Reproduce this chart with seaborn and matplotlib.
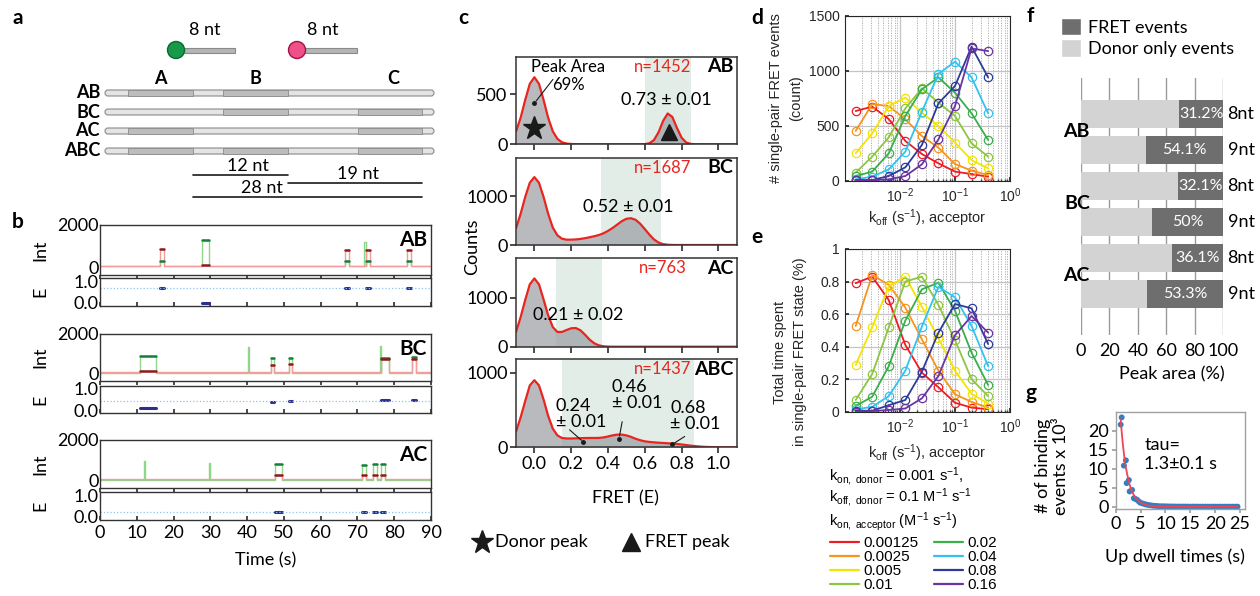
import numpy as np
import pandas as pd
import matplotlib
matplotlib.use('Agg')
import matplotlib.pyplot as plt
import seaborn as sns
from matplotlib.patches import FancyBboxPatch, Rectangle, Circle, Patch
from matplotlib.lines import Line2D
from matplotlib.ticker import LogLocator, NullFormatter

# ---------------- data ----------------
# b: single-molecule traces, events = (start s, end s, donor, acceptor, FRET)
trace_names = ['AB', 'BC', 'AC']
events_ab = [(16.2, 17.3, 300, 850, 0.70), (27.7, 29.7, 1300, 80, 0.02),
             (66.5, 67.6, 280, 820, 0.68), (72.3, 73.4, 290, 820, 0.68),
             (83.5, 84.6, 300, 830, 0.68)]
events_bc = [(10.8, 15.1, 880, 110, 0.08), (46.5, 47.2, 780, 420, 0.40),
             (51.4, 52.1, 760, 500, 0.42), (76.5, 78.5, 780, 720, 0.50),
             (84.7, 85.9, 860, 740, 0.47)]
events_ac = [(47.5, 49.4, 820, 260, 0.22), (71.3, 72.2, 780, 260, 0.22),
             (74.1, 75.2, 800, 250, 0.22), (76.5, 77.5, 820, 280, 0.22)]
# donor-only spikes (time s, donor)
spikes_ab = [(71.9, 1200)]
spikes_bc = [(40.2, 1330), (76.2, 1400)]
spikes_ac = [(12.0, 980), (29.7, 840)]
fret_mean = [0.70, 0.45, 0.22]

# c: FRET histograms (counts read at E = -0.1 ... 1.1, step 0.025)
fret_grid = np.round(np.arange(-0.1, 1.1001, 0.025), 3)
counts_ab = [128, 264, 443, 604, 670, 604, 443, 264, 130, 55, 20, 8, 3, 1, 0, 0, 0,
             0, 0, 0, 0, 0, 0, 0, 0, 0, 0, 0, 2, 10, 42, 120, 234, 308, 273, 164,
             67, 18, 4, 1, 0, 0, 0, 0, 0, 0, 0, 0, 0]
counts_bc = [345, 641, 990, 1283, 1400, 1283, 990, 641, 360, 200, 130, 110, 110,
             115, 125, 140, 160, 180, 205, 240, 290, 350, 420, 490, 540, 552, 520,
             440, 330, 215, 115, 50, 18, 5, 1, 0, 0, 0, 0, 0, 0, 0, 0, 0, 0, 0, 0,
             0, 0]
counts_ac = [300, 600, 950, 1270, 1390, 1270, 960, 640, 400, 300, 300, 340, 375,
             380, 335, 245, 145, 70, 28, 9, 2, 0, 0, 0, 0, 0, 0, 0, 0, 0, 0, 0, 0,
             0, 0, 0, 0, 0, 0, 0, 0, 0, 0, 0, 0, 0, 0, 0, 0]
counts_abc = [210, 400, 620, 830, 900, 830, 640, 420, 250, 160, 125, 118, 118, 120,
              122, 124, 125, 125, 126, 132, 145, 160, 170, 170, 160, 140, 115, 95,
              80, 72, 66, 62, 58, 54, 50, 45, 38, 30, 22, 16, 10, 6, 4, 2, 1, 0, 0,
              0, 0]
hist_names = ['AB', 'BC', 'AC', 'ABC']
hist_n = [1452, 1687, 763, 1437]
fret_windows = [(0.6, 0.85), (0.36, 0.69), (0.115, 0.365), (0.15, 0.87)]

# d, e: simulations
koff_acceptor = [0.0015625, 0.003125, 0.00625, 0.0125, 0.025, 0.05, 0.1, 0.2, 0.4]
kon_labels = ['0.00125', '0.0025', '0.005', '0.01', '0.02', '0.04', '0.08', '0.16']
events_sim = [
    [635, 675, 562, 363, 245, 160, 85, 63, 39],
    [454, 698, 680, 560, 408, 302, 154, 94, 54],
    [251, 432, 680, 756, 620, 499, 348, 190, 115],
    [76, 221, 396, 659, 841, 711, 590, 342, 221],
    [45, 85, 251, 590, 832, 940, 801, 614, 372],
    [15, 39, 106, 266, 629, 971, 1083, 940, 614],
    [9, 9, 45, 124, 327, 705, 862, 1219, 940],
    [6, 6, 15, 45, 151, 378, 680, 1203, 1179],
]
time_frac_sim = [
    [0.79, 0.83, 0.686, 0.41, 0.24, 0.15, 0.055, 0.025, 0.015],
    [0.527, 0.84, 0.78, 0.64, 0.445, 0.252, 0.107, 0.06, 0.025],
    [0.287, 0.52, 0.77, 0.83, 0.645, 0.45, 0.252, 0.11, 0.05],
    [0.072, 0.232, 0.518, 0.80, 0.83, 0.656, 0.44, 0.20, 0.096],
    [0.035, 0.092, 0.28, 0.56, 0.752, 0.793, 0.62, 0.363, 0.164],
    [0.014, 0.03, 0.096, 0.252, 0.523, 0.768, 0.703, 0.527, 0.28],
    [0.006, 0.006, 0.04, 0.072, 0.246, 0.486, 0.662, 0.635, 0.416],
    [0.0, 0.004, 0.01, 0.02, 0.082, 0.22, 0.47, 0.588, 0.486],
]

# f: peak areas
f_construct = ['AB', 'AB', 'BC', 'BC', 'AC', 'AC']
f_length = ['8nt', '9nt', '8nt', '9nt', '8nt', '9nt']
f_fret_pct = [31.2, 54.1, 32.1, 50.0, 36.1, 53.3]

# g: dwell times
dwell_time = [1.0, 1.2, 1.65, 2.05, 2.2, 2.65, 2.8, 3.3, 3.65, 4.0, 4.3, 4.7, 5.0,
              5.5, 6.0, 6.5, 7.0, 7.5, 8.0, 8.5, 9.0, 9.5, 10.0, 10.5, 11.0, 11.5,
              12.0, 12.5, 13.0, 13.5, 14.0, 14.5, 15.0, 15.5, 16.0, 16.5, 17.0,
              17.5, 18.0, 18.5, 19.0, 19.5, 20.0, 20.5, 21.0, 21.5, 22.0, 22.5,
              23.0, 23.5, 24.0, 24.5]
dwell_count = [21.6, 23.5, 10.8, 12.2, 6.2, 7.0, 4.0, 4.4, 2.2, 2.0, 1.8, 1.3, 1.0,
               0.8, 0.6, 0.45, 0.35, 0.25, 0.2, 0.15, 0.1, 0.1, 0.08, 0.06, 0.05,
               0.04, 0.03, 0.03, 0.02, 0.02, 0.02, 0.01, 0.01, 0.01, 0.01, 0.01,
               0, 0, 0, 0, 0, 0, 0, 0, 0, 0, 0, 0, 0, 0, 0, 0]
fit_time = [1.0, 1.25, 1.5, 1.75, 2.0, 2.5, 3.0, 3.5, 4.0, 5.0, 6.0, 7.0, 8.0, 10.0,
            15.0, 20.0, 24.5]
fit_count = [23.0, 19.0, 15.7, 12.9, 10.6, 7.3, 4.9, 3.4, 2.3, 1.05, 0.49, 0.22,
             0.10, 0.02, 0.0, 0.0, 0.0]

# ---------------- style ----------------
sns.set_theme(style='ticks')
plt.rcParams['font.family'] = ['Lato', 'DejaVu Sans']
plt.rcParams.update({
    'mathtext.fontset': 'custom',
    'mathtext.rm': 'Liberation Sans',
    'mathtext.it': 'Liberation Sans:italic',
    'mathtext.bf': 'Liberation Sans:bold',
    'text.color': 'black',
    'axes.labelcolor': 'black',
    'xtick.labelcolor': 'black',
    'ytick.labelcolor': 'black',
})

W, H = 1260, 596
fig = plt.figure(figsize=(12.6, 5.96), dpi=100)


def px_axes(x0, y0, x1, y1):
    return fig.add_axes([x0 / W, 1 - y1 / H, (x1 - x0) / W, (y1 - y0) / H])


ov = fig.add_axes([0, 0, 1, 1])
ov.set_xlim(0, W)
ov.set_ylim(H, 0)
ov.axis('off')

for lab, (x, y) in zip('abcdefg', [(18, 18), (18, 222), (463, 18), (757, 18),
                                  (757, 237), (1030, 16), (1031, 393)]):
    ov.text(x, y, lab, fontsize=15, fontweight='bold', ha='center', va='center')

# ---------------- a: schematic ----------------
ov.add_patch(Circle((176, 50), 8.5, fc='#17994a', ec='#0b6b2f', lw=1, zorder=3))
ov.add_patch(Rectangle((184, 47.5), 51, 5, fc='#b5b5b5', ec='#8a8a8a', lw=0.8))
ov.add_patch(Circle((297, 50), 8.5, fc='#f0508a', ec='#a3143f', lw=1, zorder=3))
ov.add_patch(Rectangle((305, 47.5), 52, 5, fc='#b5b5b5', ec='#8a8a8a', lw=0.8))
ov.text(205, 30, '8 nt', ha='center', va='center', fontsize=13)
ov.text(323, 30, '8 nt', ha='center', va='center', fontsize=13)
site_x = {'A': (128, 193), 'B': (223, 288), 'C': (358, 422)}
for s, (x0, x1) in site_x.items():
    ov.text((x0 + x1) / 2 + (0 if s != 'C' else 3), 78, s, ha='center', va='center',
            fontsize=13, fontweight='bold')
for name, yc in zip(hist_names, [93, 112, 131, 151]):
    ov.add_patch(FancyBboxPatch((105, yc - 3), 329, 6,
                                boxstyle='round,pad=0,rounding_size=3',
                                fc='#e4e4e4', ec='#8a8a8a', lw=0.8))
    for s in name:
        x0, x1 = site_x[s]
        ov.add_patch(Rectangle((x0, yc - 3), x1 - x0, 6, fc='#bcbcbc',
                               ec='#8a8a8a', lw=0.6))
    ov.text(100, yc, name, ha='right', va='center', fontsize=13, fontweight='bold')
ov.plot([193, 288], [175, 175], color='k', lw=1.2)
ov.plot([288, 422], [183, 183], color='k', lw=1.2)
ov.plot([193, 422], [197, 197], color='k', lw=1.2)
ov.text(248, 166, '12 nt', ha='center', va='center', fontsize=13)
ov.text(358, 174, '19 nt', ha='center', va='center', fontsize=13)
ov.text(262, 188, '28 nt', ha='center', va='center', fontsize=13)

# ---------------- b: traces ----------------


def steps(segs, base):
    t, v = [0.0], [base]
    for s, e, lvl in sorted(segs):
        t += [s, e]
        v += [lvl, base]
    t.append(90.0)
    v.append(base)
    return t, v


b_boxes = [(225, 275, 278, 306), (334, 381, 386, 413), (440, 488, 492, 520)]
all_events = [events_ab, events_bc, events_ac]
all_spikes = [spikes_ab, spikes_bc, spikes_ac]
for i, name in enumerate(trace_names):
    t0, t1, e0, e1 = b_boxes[i]
    ax_i = px_axes(100, t0, 431, t1)
    ax_e = px_axes(100, e0, 431, e1)
    ev = all_events[i]
    don_t, don_v = steps([(s, e, d) for s, e, d, a, f in ev] +
                         [(s, s + 0.3, h) for s, h in all_spikes[i]], 30)
    acc_t, acc_v = steps([(s, e, a) for s, e, d, a, f in ev], 60)
    ax_i.plot(don_t, don_v, drawstyle='steps-post', color='#8fd68a', lw=1)
    ax_i.plot(acc_t, acc_v, drawstyle='steps-post', color='#f49c9c', lw=1)
    for s, e, d, a, f in ev:
        ax_i.plot([s, e], [d, d], color='#14803a', lw=1.8)
        ax_i.plot([s, e], [a, a], color='#8e1b1b', lw=1.8)
        ax_e.plot([s, e], [f, f], color='#2b2f8f', lw=2.2)
    ax_e.axhline(fret_mean[i], color='#8cc4ee', ls=':', lw=0.9)
    ax_i.set_ylim(-380, 2000)
    ax_e.set_ylim(-0.14, 1.14)
    for ax in (ax_i, ax_e):
        ax.set_xlim(0, 90)
        ax.set_xticks(range(0, 91, 10))
        for sp in ax.spines.values():
            sp.set_visible(True)
            sp.set_color('#333333')
            sp.set_linewidth(1)
        ax.tick_params(axis='y', length=0, labelsize=13, pad=1)
    ax_i.set_yticks([0, 2000])
    ax_i.set_yticklabels(['0', '2000'])
    ax_e.set_yticks([0, 1])
    ax_e.set_yticklabels(['0.0', '1.0'])
    ax_i.tick_params(axis='x', direction='out', length=3, labelbottom=False, color='#333333')
    ax_e.tick_params(axis='x', direction='in', length=3, labelbottom=(i == 2),
                     labelsize=13, color='#333333')
    ax_i.text(0.988, 0.9, name, transform=ax_i.transAxes, ha='right', va='top',
              fontsize=15, fontweight='bold')
    ov.text(40, (t0 + t1) / 2, 'Int', rotation=90, ha='center', va='center', fontsize=13)
    ov.text(40, (e0 + e1) / 2, 'E', rotation=90, ha='center', va='center', fontsize=13)
ov.text(266, 560, 'Time (s)', ha='center', va='center', fontsize=13)

# ---------------- c: FRET histograms ----------------
c_boxes = [(56.7, 144.3), (157.7, 245), (258.3, 346.7), (359.3, 447.3)]
c_ylim = [875, 1800, 1800, 1180]
c_yticks = [[0, 500], [0, 1000], [0, 1000], [0, 1000]]
all_counts = [counts_ab, counts_bc, counts_ac, counts_abc]
c_axes = []
for i, name in enumerate(hist_names):
    top, bot = c_boxes[i]
    ax = px_axes(516, top, 736.7, bot)
    c_axes.append(ax)
    ax.axvspan(*fret_windows[i], color='#e1ede6', lw=0)
    ax.fill_between(fret_grid, all_counts[i], color='#9a9da3', alpha=0.7, lw=0)
    sns.lineplot(x=fret_grid, y=all_counts[i], color='#e8251f', lw=1.6, ax=ax)
    ax.set_xlim(-0.1, 1.1)
    ax.set_ylim(0, c_ylim[i])
    ax.set_yticks(c_yticks[i])
    ax.set_xticks([0, 0.2, 0.4, 0.6, 0.8, 1.0])
    ax.set_xticklabels(['0.0', '0.2', '0.4', '0.6', '0.8', '1.0'])
    ax.tick_params(direction='out', length=4, labelsize=13, color='#333333',
                   labelbottom=(i == 3), pad=2)
    for sp in ax.spines.values():
        sp.set_visible(True)
        sp.set_color('#333333')
        sp.set_linewidth(1.1)
    ax.text(0.665, 0.885, f'n={hist_n[i]}', transform=ax.transAxes, color='#e8251f',
            ha='center', va='center', fontsize=12)
    ax.text(0.985, 0.885, name, transform=ax.transAxes, ha='right', va='center',
            fontsize=14, fontweight='bold')

ax = c_axes[0]
ax.plot(0.0, 160, marker='*', ms=17, color='k')
ax.plot(0.73, 118, marker='^', ms=12, color='k')
ax.plot(0.0, 410, 'o', ms=2.5, color='k')
ax.annotate('', xy=(0.0, 410), xytext=(0.11, 670),
            arrowprops=dict(arrowstyle='-', color='k', lw=0.8))
ax.text(0.185, 678, 'Peak Area\n69%', ha='center', va='center', fontsize=12,
        linespacing=1.15)
ax.text(0.72, 443, '0.73 ± 0.01', ha='center', va='center', fontsize=13)
c_axes[1].text(0.51, 787, '0.52 ± 0.01', ha='center', va='center', fontsize=13)
c_axes[2].text(0.24, 642, '0.21 ± 0.02', ha='center', va='center', fontsize=13)
ax = c_axes[3]
for (tx, ty), (lx, ly), (px, py), lab in [
        ((0.115, 446), (0.18, 259), (0.267, 70), '0.24\n± 0.01'),
        ((0.42, 701), (0.48, 380), (0.46, 115), '0.46\n± 0.01'),
        ((0.74, 420), (0.83, 165), (0.75, 40), '0.68\n± 0.01')]:
    ax.text(tx, ty, lab, ha='left', va='center', fontsize=13, linespacing=0.95)
    ax.annotate('', xy=(px, py), xytext=(lx, ly),
                arrowprops=dict(arrowstyle='-', color='k', lw=0.8))
    ax.plot(px, py, 'o', ms=2.5, color='k')
ov.text(472, 247, 'Counts', rotation=90, ha='center', va='center', fontsize=13)
ov.text(625, 498, 'FRET (E)', ha='center', va='center', fontsize=13)
ov.plot(482, 542, marker='*', ms=17, color='k')
ov.text(495, 542, 'Donor peak', ha='left', va='center', fontsize=13)
ov.plot(631, 542, marker='^', ms=13, color='k')
ov.text(645, 542, 'FRET peak', ha='left', va='center', fontsize=13)

# ---------------- d, e: simulations ----------------
de_colors = ['#ed1c24', '#f7941d', '#f5e400', '#8dc63f', '#3aae4a', '#33c2f0',
             '#2e3a9a', '#6a35a0']
sim = pd.DataFrame({
    'koff': np.tile(koff_acceptor, len(kon_labels)),
    'kon': np.repeat(kon_labels, len(koff_acceptor)),
    'events': np.concatenate(events_sim),
    'frac': np.concatenate(time_frac_sim),
})


def style_de(ax):
    ax.set_xscale('log')
    ax.set_xlim(1e-3, 1)
    ax.set_xticks([1e-2, 1e-1, 1])
    ax.set_xticklabels(['10$^{-2}$', '10$^{-1}$', '10$^{0}$'])
    ax.xaxis.set_minor_locator(LogLocator(base=10, subs=np.arange(2, 10), numticks=20))
    ax.xaxis.set_minor_formatter(NullFormatter())
    ax.grid(True, which='major', color='#c4c4c4', lw=0.9)
    ax.grid(True, which='minor', axis='x', color='#a8a8a8', lw=0.6, ls=(0, (1.5, 1.5)))
    ax.tick_params(which='both', direction='in', length=3, labelsize=10,
                   labelfontfamily='Liberation Sans', color='#262626',
                   labelcolor='#262626', pad=4)
    ax.tick_params(which='minor', length=1.5)
    for sp in ax.spines.values():
        sp.set_visible(True)
        sp.set_color('#262626')
        sp.set_linewidth(0.8)
    ax.set_xlabel('')
    ax.set_ylabel('')
    for line in ax.lines:
        line.set_markerfacecolor('none')
        line.set_markeredgecolor(line.get_color())
        line.set_markeredgewidth(0.9)


ax_d = px_axes(845, 15.7, 1010, 181)
sns.lineplot(data=sim, x='koff', y='events', hue='kon', hue_order=kon_labels,
             palette=de_colors, marker='o', markersize=6, lw=1.3, legend=False,
             ax=ax_d)
ax_d.set_ylim(0, 1500)
ax_d.set_yticks([0, 500, 1000, 1500])
style_de(ax_d)

ax_e = px_axes(845, 249, 1010, 411.7)
sns.lineplot(data=sim, x='koff', y='frac', hue='kon', hue_order=kon_labels,
             palette=de_colors, marker='o', markersize=6, lw=1.3, legend=False,
             ax=ax_e)
ax_e.set_ylim(0, 1)
ax_e.set_yticks([0, 0.2, 0.4, 0.6, 0.8, 1.0])
ax_e.set_yticklabels(['0', '0.2', '0.4', '0.6', '0.8', '1'])
style_de(ax_e)

lf = 'Liberation Sans'
ov.text(786, 98, '# single-pair FRET events\n(count)', rotation=90, ha='center',
        va='center', fontsize=10.5, family=lf, color='#262626', linespacing=1.5)
ov.text(790, 352, 'Total time spent\nin single-pair FRET state (%)', rotation=90,
        ha='center', va='center', fontsize=10.5, family=lf, color='#262626',
        linespacing=1.5)
xl = 'k$_{\\rm off}$ (s$^{-1}$), acceptor'
ov.text(927, 218, xl, ha='center', va='center', fontsize=10.5, family=lf, color='#262626')
ov.text(927, 453, xl, ha='center', va='center', fontsize=10.5, family=lf, color='#262626')
ov.text(829, 477, 'k$_{\\rm on,\\ donor}$ = 0.001 s$^{-1}$,', ha='left', va='center',
        fontsize=10.5, family=lf)
ov.text(829, 498, 'k$_{\\rm off,\\ donor}$ = 0.1 M$^{-1}$ s$^{-1}$', ha='left',
        va='center', fontsize=10.5, family=lf)
ov.text(829, 522, 'k$_{\\rm on,\\ acceptor}$ (M$^{-1}$ s$^{-1}$)', ha='left',
        va='center', fontsize=10.5, family=lf)
handles = [Line2D([], [], color=c, lw=1.6) for c in de_colors]
fig.legend(handles, kon_labels, loc='upper left', bbox_to_anchor=(830 / W, 1 - 536 / H),
           ncol=2, frameon=False, prop={'family': lf, 'size': 11}, handlelength=1.9,
           handletextpad=0.3, columnspacing=1.0, labelspacing=0.0, borderpad=0,
           borderaxespad=0)

# ---------------- f: peak areas ----------------
f_cat = [f'{c} {l}' for c, l in zip(f_construct, f_length)]
f_donor = [100 - v for v in f_fret_pct]
f_total = [d + v for d, v in zip(f_donor, f_fret_pct)]
dark, light = '#6e6e6e', '#d3d3d3'
ax_f = px_axes(1080.7, 78, 1223.3, 335)
sns.barplot(x=f_total, y=f_cat, color=dark, width=0.8, saturation=1, orient='h',
            errorbar=None, ax=ax_f)
sns.barplot(x=f_donor, y=f_cat, color=light, width=0.8, saturation=1, orient='h',
            errorbar=None, ax=ax_f)
for p in ax_f.patches:
    p.set_linewidth(0)
ax_f.set_xlim(0, 100)
ax_f.set_ylim(6.14, -1)
ax_f.set_xticks([0, 20, 40, 60, 80, 100])
ax_f.grid(axis='x', color='#9a9a9a', lw=1)
ax_f.set_axisbelow(True)
sns.despine(ax=ax_f, left=True, bottom=True)
ax_f.tick_params(axis='x', length=0, labelsize=13, pad=6)
ax_f.tick_params(axis='y', length=0, labelleft=False)
ax_f.set_xlabel('')
ax_f.set_ylabel('')
for i, (d, v) in enumerate(zip(f_donor, f_fret_pct)):
    ax_f.text(d + v / 2, i, f'{v:g}%', ha='center', va='center', color='white',
              fontsize=11.5)
    ax_f.text(103, i, f_length[i], ha='left', va='center', fontsize=13, clip_on=False)
for j, c in enumerate(['AB', 'BC', 'AC']):
    ax_f.text(6.5, 2 * j + 0.5, c, ha='right', va='center', fontsize=14,
              fontweight='bold', zorder=5, clip_on=False)
fig.legend([Patch(fc=dark), Patch(fc=light)], ['FRET events', 'Donor only events'],
           loc='upper left', bbox_to_anchor=(1061 / W, 1 - 18 / H), frameon=False,
           fontsize=13, handlelength=1.1, handleheight=1.1, handletextpad=0.4,
           labelspacing=0.2, borderpad=0, borderaxespad=0)
ov.text(1172, 374, 'Peak area (%)', ha='center', va='center', fontsize=13)

# ---------------- g: dwell times ----------------
ax_g = px_axes(1115.7, 411.7, 1245, 509.3)
sns.scatterplot(x=dwell_time, y=dwell_count, color='#2f7fc1', s=18, edgecolor='none',
                ax=ax_g, zorder=2)
sns.lineplot(x=fit_time, y=fit_count, color='#ef4459', lw=1.3, ax=ax_g, zorder=3)
ax_g.set_xlim(0, 26)
ax_g.set_ylim(-0.7, 25)
ax_g.set_xticks([0, 5, 10, 15, 20, 25])
ax_g.set_yticks([0, 5, 10, 15, 20])
for sp in ax_g.spines.values():
    sp.set_visible(True)
    sp.set_color('#a0a0a0')
    sp.set_linewidth(1)
ax_g.tick_params(direction='out', length=3, color='#a0a0a0', labelsize=13, pad=2)
ax_g.text(0.22, 0.56, 'tau=\n1.3±0.1 s', transform=ax_g.transAxes, ha='left',
          va='center', fontsize=13)
ov.text(1052, 466, '# of binding\nevents x 10³', rotation=90, ha='center', va='center',
        fontsize=13, linespacing=1.2)
ov.text(1175, 557, 'Up dwell times (s)', ha='center', va='center', fontsize=13)

fig.savefig('out.png', dpi=100)
